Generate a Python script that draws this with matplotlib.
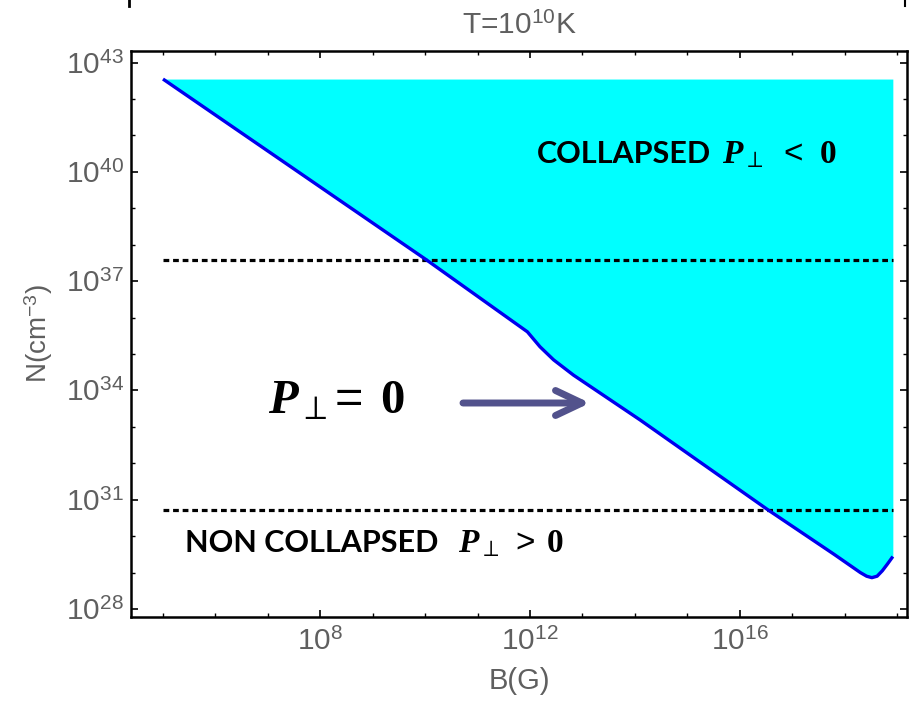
import matplotlib
matplotlib.use("Agg")
import matplotlib.pyplot as plt
import numpy as np
from matplotlib.ticker import FixedLocator, NullFormatter, FixedFormatter
from matplotlib.lines import Line2D

plt.rcParams['font.family'] = ['Liberation Sans', 'DejaVu Sans']
plt.rcParams['mathtext.fontset'] = 'custom'
plt.rcParams['mathtext.rm'] = 'Liberation Sans'
plt.rcParams['mathtext.it'] = 'Liberation Serif:italic:bold'
plt.rcParams['mathtext.bf'] = 'Liberation Serif:bold'
plt.rcParams['mathtext.fallback'] = 'stix'

# ---- data (log10 values) ----
logB = [5.0, 10.03, 11.95, 12.19, 12.45, 12.83, 14.1, 16.55, 17.16, 17.8,
        18.1, 18.3, 18.42, 18.52, 18.62, 18.72, 18.82, 18.92]
logN = [42.55, 37.58, 35.61, 35.20, 34.84, 34.42, 33.19, 30.71, 30.12, 29.5,
        29.2, 29.0, 28.9, 28.86, 28.9, 29.05, 29.24, 29.44]
fill_top_log = 42.55
dash_levels_log = [37.58, 30.71]
dash_x_log = [5.0, 18.92]
xtick_exps = [8, 12, 16]
ytick_exps = [28, 31, 34, 37, 40, 43]

B = 10.0 ** np.array(logB)
N = 10.0 ** np.array(logN)

W, H = 912, 701
fig = plt.figure(figsize=(W / 100, H / 100), dpi=100)
ax = fig.add_axes([131 / W, 1 - 617 / H, (907 - 131) / W, (617 - 51) / H])
ax.set_xscale('log')
ax.set_yscale('log')
ax.set_xlim(10 ** 4.39, 10 ** 19.19)
ax.set_ylim(10 ** 27.78, 10 ** 43.32)

ax.fill_between(B, N, 10 ** fill_top_log, color='#00ffff', linewidth=0, zorder=1)
for lv in dash_levels_log:
    ax.plot([10 ** dash_x_log[0], 10 ** dash_x_log[1]], [10 ** lv, 10 ** lv],
            color='black', lw=2.3, linestyle=(0, (1.8, 1.2)), zorder=3)
ax.plot(B, N, color='#0000ee', lw=2.4, zorder=4, solid_capstyle='butt')

gray = '#5f5f5f'
ax.xaxis.set_major_locator(FixedLocator([10.0 ** e for e in xtick_exps]))
ax.xaxis.set_major_formatter(FixedFormatter([r'$10^{%d}$' % e for e in xtick_exps]))
ax.xaxis.set_minor_locator(FixedLocator([10.0 ** e for e in range(5, 20)]))
ax.xaxis.set_minor_formatter(NullFormatter())
ax.yaxis.set_major_locator(FixedLocator([10.0 ** e for e in ytick_exps]))
ax.yaxis.set_major_formatter(FixedFormatter([r'$10^{%d}$' % e for e in ytick_exps]))
ax.yaxis.set_minor_locator(FixedLocator([10.0 ** e for e in range(28, 44)]))
ax.yaxis.set_minor_formatter(NullFormatter())

ax.tick_params(which='both', direction='in', top=True, right=True,
               colors='black', labelcolor=gray, labelsize=21.5)
ax.tick_params(which='major', length=5, width=1.2)
ax.tick_params(axis='x', which='major', pad=8)
ax.tick_params(axis='y', which='major', pad=5)
ax.tick_params(which='minor', length=3, width=1.0)
for s in ax.spines.values():
    s.set_linewidth(1.8)

ax.set_title(r'T=$10^{10}$K', fontsize=21.5, color=gray, pad=12)
ax.set_xlabel('B(G)', fontsize=21, color=gray, labelpad=8)
ax.set_ylabel(r'N(cm$^{-3}$)', fontsize=20, color=gray, labelpad=8)

def fx(px):
    return px / W

def fy(py):
    return 1 - py / H

lato = ['Lato', 'DejaVu Sans']
fig.text(fx(537), fy(163), 'COLLAPSED', fontsize=22, fontweight='bold',
         family=lato, ha='left', va='baseline')
fig.text(fx(722), fy(163), r'$P_{\perp}\;\,<\;\,\mathbf{0}$', fontsize=24,
         ha='left', va='baseline')
fig.text(fx(185), fy(552), 'NON COLLAPSED', fontsize=22, fontweight='bold',
         family=lato, ha='left', va='baseline')
fig.text(fx(458), fy(552), r'$P_{\perp}\;>\;\mathbf{0}$', fontsize=24,
         ha='left', va='baseline')
fig.text(fx(268), fy(413), r'$P_{\perp}\!=\;\mathbf{0}$', fontsize=35,
         ha='left', va='baseline')

ax.annotate('', xy=(590, H - 403), xytext=(463, H - 403), xycoords='figure pixels',
            textcoords='figure pixels',
            arrowprops=dict(arrowstyle='->,head_length=1.9,head_width=0.9',
                            lw=5, color='#52528c', capstyle='round',
                            joinstyle='round', shrinkA=0, shrinkB=0))

fig.add_artist(Line2D([fx(129), fx(129)], [fy(0), fy(6)], color='black', lw=2))
fig.add_artist(Line2D([fx(905), fx(905)], [fy(0), fy(6)], color='black', lw=1.5))

fig.savefig('out.png', dpi=100)
